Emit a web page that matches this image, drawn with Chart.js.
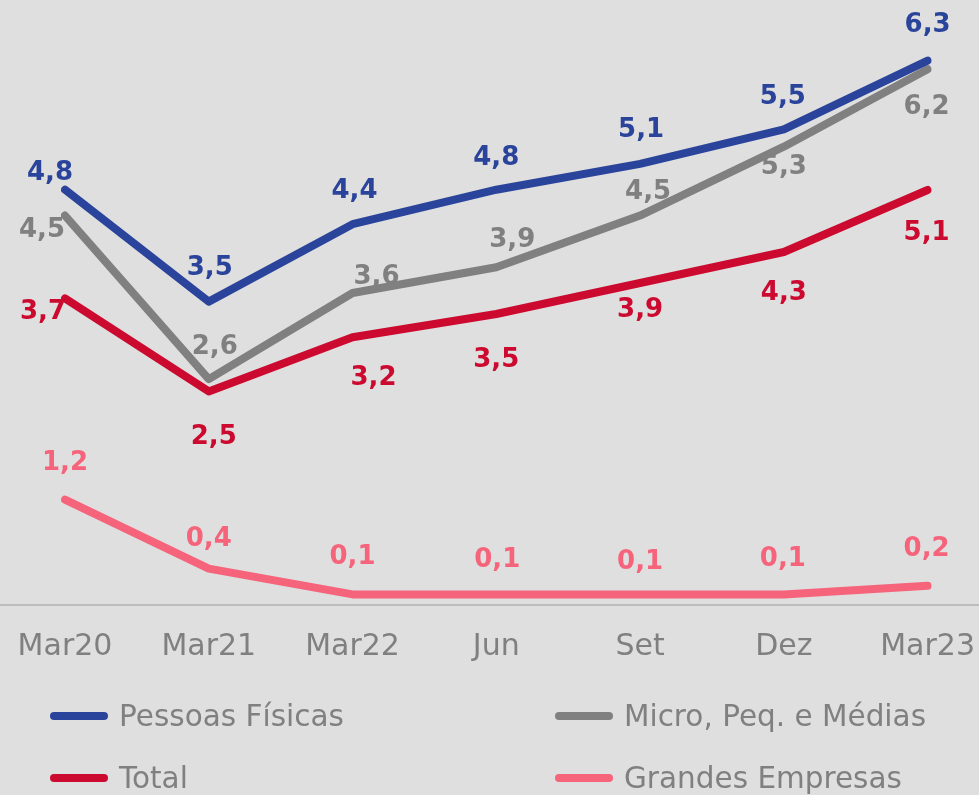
<!DOCTYPE html>
<html>
<head>
<meta charset="utf-8">
<script src="https://cdn.jsdelivr.net/npm/chart.js@4/dist/chart.umd.min.js"></script>
<style>
  html, body { margin: 0; padding: 0; background: #dfdfdf; }
  #wrap { position: relative; width: 979px; height: 795px; overflow: hidden; }
  #c { position: absolute; left: 0; top: 0; }
  #legend {
    position: absolute; left: 50px; top: 685px;
    display: grid; grid-template-columns: 505px 420px; grid-auto-rows: 62px;
    font-family: "DejaVu Sans", sans-serif; font-size: 29.5px; color: #808080;
  }
  .item { display: flex; align-items: center; white-space: nowrap; }
  .swatch { flex: 0 0 58px; width: 58px; height: 8px; border-radius: 4px; margin-right: 11px; }
</style>
</head>
<body>
<div id="wrap">
  <canvas id="c" width="979" height="795"></canvas>
  <div id="legend"></div>
</div>
<script>
// ---- data ----
const categories = ["Mar20", "Mar21", "Mar22", "Jun", "Set", "Dez", "Mar23"];
const pessoasFisicas = [4.8, 3.5, 4.4, 4.8, 5.1, 5.5, 6.3];
const microPeqMedias = [4.5, 2.6, 3.6, 3.9, 4.5, 5.3, 6.2];
const total = [3.7, 2.5, 3.2, 3.5, 3.9, 4.3, 5.1];
const grandesEmpresas = [1.2, 0.4, 0.1, 0.1, 0.1, 0.1, 0.2];
const seriesNames = ["Pessoas Físicas", "Micro, Peq. e Médias", "Total", "Grandes Empresas"];

// ---- label placement (pixels relative to point) ----
const offBlue = [[-15,-16],[1,-33],[2,-33],[0,-31],[1,-34],[-1,-32],[0,-35]];
const offGray = [[-23,15],[6,-32],[24,-16],[16,-27],[8,-23],[0,21],[-1,38]];
const offRed  = [[-22,14],[5,46],[21,41],[0,46],[0,27],[0,41],[-1,43]];
const offPink = [[0,-36],[0,-29],[0,-37],[1,-34],[0,-32],[-1,-35],[-1,-37]];

const BLUE = "#2a449b", GRAY = "#808080", RED = "#cc0a2f", PINK = "#f5647b";

function ds(label, data, color, axis, order, offsets) {
  return {
    label, data, borderColor: color, backgroundColor: color,
    borderWidth: 8, borderCapStyle: "round", borderJoinStyle: "round",
    pointRadius: 0, pointHoverRadius: 0, tension: 0, fill: false,
    yAxisID: axis, order, labelOffsets: offsets
  };
}

const valueLabels = {
  id: "valueLabels",
  afterDatasetsDraw(chart) {
    const ctx = chart.ctx;
    ctx.save();
    ctx.font = "bold 26px 'DejaVu Sans'";
    ctx.textAlign = "center";
    ctx.textBaseline = "middle";
    chart.data.datasets.forEach((d, i) => {
      const meta = chart.getDatasetMeta(i);
      ctx.fillStyle = d.borderColor;
      meta.data.forEach((pt, j) => {
        const o = d.labelOffsets[j];
        const txt = d.data[j].toFixed(1).replace(".", ",");
        ctx.fillText(txt, pt.x + o[0], pt.y + o[1]);
      });
    });
    ctx.restore();
  }
};

const baseLine = {
  id: "baseLine",
  beforeDatasetsDraw(chart) {
    const ctx = chart.ctx, y = chart.chartArea.bottom;
    ctx.save();
    ctx.strokeStyle = "#bdbdbd";
    ctx.lineWidth = 2;
    ctx.beginPath();
    ctx.moveTo(0, y);
    ctx.lineTo(chart.width, y);
    ctx.stroke();
    ctx.restore();
  }
};

const chart = new Chart(document.getElementById("c"), {
  type: "line",
  data: {
    labels: categories,
    datasets: [
      ds(seriesNames[0], pessoasFisicas, BLUE, "y", 0, offBlue),
      ds(seriesNames[1], microPeqMedias, GRAY, "y", 2, offGray),
      ds(seriesNames[2], total, RED, "y2", 1, offRed),
      ds(seriesNames[3], grandesEmpresas, PINK, "y", 3, offPink)
    ]
  },
  options: {
    responsive: false,
    animation: false,
    events: [],
    layout: { padding: { left: 65, right: 51, top: 10, bottom: 106 } },
    plugins: { legend: { display: false }, tooltip: { enabled: false } },
    scales: {
      x: {
        offset: false,
        grid: { display: false, drawTicks: false },
        border: { display: false },
        ticks: {
          color: "#808080", padding: 4, maxRotation: 0, autoSkip: false,
          font: { family: "DejaVu Sans", size: 30, lineHeight: "76px" }
        }
      },
      y: { display: false, min: -0.023, max: 6.887 },
      y2: { display: false, min: -0.255, max: 7.422 }
    }
  },
  plugins: [baseLine, valueLabels]
});

// HTML legend built from datasets
const lg = document.getElementById("legend");
chart.data.datasets.forEach(d => {
  const it = document.createElement("div");
  it.className = "item";
  const sw = document.createElement("span");
  sw.className = "swatch";
  sw.style.background = d.borderColor;
  const tx = document.createElement("span");
  tx.textContent = d.label;
  it.appendChild(sw); it.appendChild(tx);
  lg.appendChild(it);
});
</script>
</body>
</html>
